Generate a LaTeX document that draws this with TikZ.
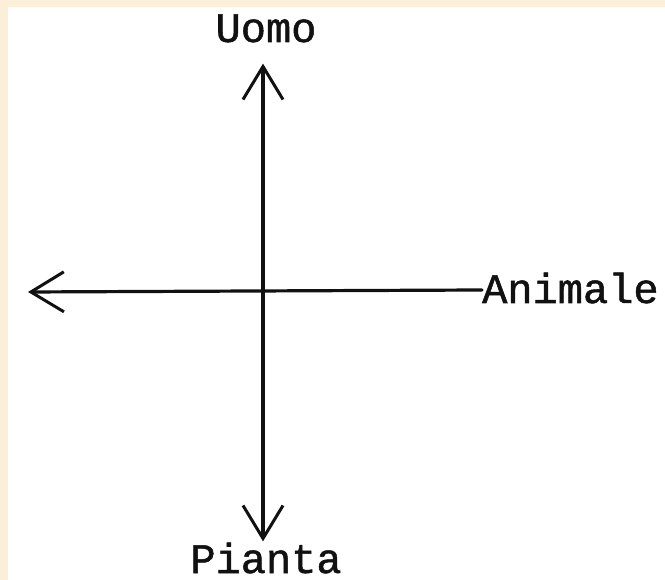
\documentclass[tikz,border=0pt]{standalone}
\usepackage{fontspec}
\usepackage{tikz}
\usetikzlibrary{arrows.meta,positioning}
\newfontfamily\typewriter[FakeBold=1.2]{Liberation Mono}
\definecolor{carta}{HTML}{FCEFD9}
\definecolor{inchiostro}{HTML}{111111}
\begin{document}
\begin{tikzpicture}[
  x=1pt,y=1pt,
  word/.style={font=\typewriter\fontsize{42}{48}\selectfont,color=inchiostro,inner sep=0pt},
  axis/.style={line width=3.2pt,color=inchiostro,line cap=round},
  barb/.style={axis,-{Straight Barb[length=33pt,width=40pt,line width=3pt]}},
  twobarb/.style={axis,{Straight Barb[length=33pt,width=40pt,line width=3pt]}-{Straight Barb[length=33pt,width=40pt,line width=3pt]}}]
  % page
  \fill[carta] (0,0) rectangle (665,-580);
  \fill[white] (8,-7) rectangle (665,-580);
  \useasboundingbox (0,0) rectangle (665,-580);
  % labels
  \node[word,anchor=base] (uomo) at (266,-42) {Uomo};
  \node[word,anchor=base] (pianta) at (266,-573) {Pianta};
  \node[word,anchor=base west] (animale) at (482,-303) {Animale};
  \coordinate (sinistra) at (28,-292);
  % axes
  \draw[twobarb,shorten <=1pt,shorten >=21pt] ([xshift=-3pt]pianta.north) -- ([xshift=-3pt]uomo.south);
  \draw[barb] ([yshift=-2pt]animale.west) -- (sinistra);
\end{tikzpicture}
\end{document}
